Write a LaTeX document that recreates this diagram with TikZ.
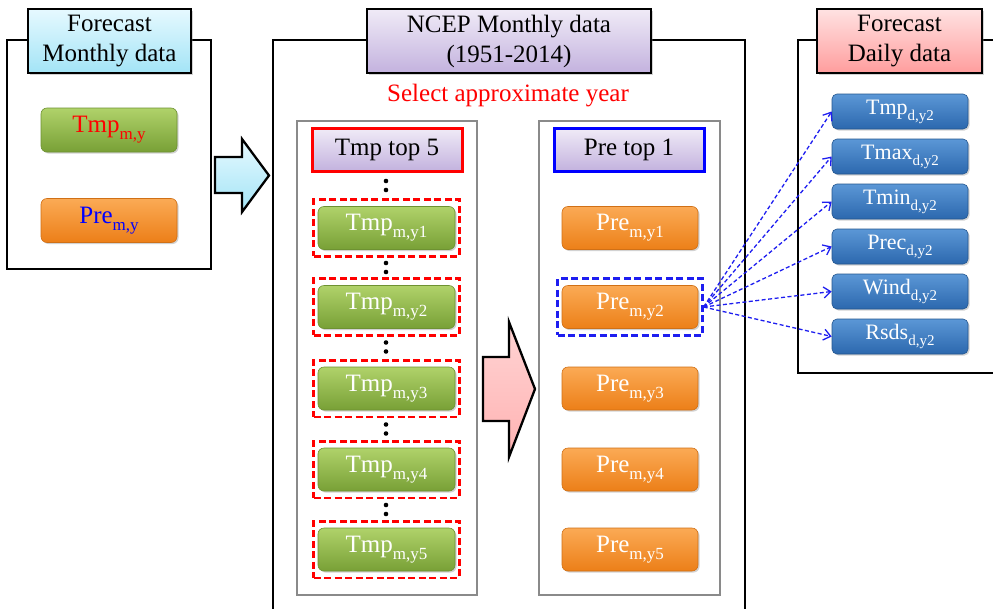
\documentclass[tikz,border=0pt]{standalone}
\usepackage{fontspec}
\setmainfont{Liberation Serif}
\usetikzlibrary{arrows.meta,shadows,fit}
\definecolor{grnT}{HTML}{B0D26A}
\definecolor{grnB}{HTML}{78A036}
\definecolor{grnD}{HTML}{6E9232}
\definecolor{orgT}{HTML}{FBAA55}
\definecolor{orgB}{HTML}{EC7F18}
\definecolor{orgD}{HTML}{D07016}
\definecolor{bluT}{HTML}{5B97D6}
\definecolor{bluB}{HTML}{2C68AE}
\definecolor{bluD}{HTML}{24568F}
\definecolor{cyT}{HTML}{E6F9FF}
\definecolor{cyB}{HTML}{A3E4F6}
\definecolor{puT}{HTML}{F0EBF7}
\definecolor{puB}{HTML}{C3B2DE}
\definecolor{pkT}{HTML}{FFE2E2}
\definecolor{pkB}{HTML}{FF9D9D}
\definecolor{arrB}{HTML}{1E1EF0}
\definecolor{grayf}{HTML}{8A8A8A}
\newcommand\sbs[2][17]{\raisebox{-0.27em}{\fontsize{#1}{#1}\selectfont #2}}
\tikzset{
  frame/.style={draw=black, line width=2.3pt, fill=white},
  innerframe/.style={draw=grayf, line width=1.7pt},
  shad/.style={drop shadow={shadow xshift=1.5pt, shadow yshift=-1.5pt, opacity=.35}},
  titlebox/.style={shad, draw=black, line width=2.3pt, inner sep=0pt, align=center,
    minimum height=64pt, font=\fontsize{25}{30}\selectfont},
  headbox/.style={shad, line width=3pt, inner sep=0pt, top color=puT, bottom color=puB,
    minimum width=150pt, minimum height=43pt, font=\fontsize{25}{29}\selectfont},
  grnbox/.style={shad, rounded corners=6pt, draw=grnD, line width=0.6pt, top color=grnT, bottom color=grnB,
    minimum width=137pt, minimum height=43pt, inner sep=0pt, text=white, font=\fontsize{25}{29}\selectfont},
  orgbox/.style={shad, rounded corners=6pt, draw=orgD, line width=0.6pt, top color=orgT, bottom color=orgB,
    minimum width=136pt, minimum height=43pt, inner sep=0pt, text=white, font=\fontsize{25}{29}\selectfont},
  blubox/.style={shad, rounded corners=5pt, draw=bluD, line width=0.6pt, top color=bluT, bottom color=bluB,
    minimum width=136pt, minimum height=35pt, inner sep=0pt, text=white, font=\fontsize{22}{25}\selectfont},
  reddash/.style={draw=red, dash pattern=on 7pt off 3.5pt, line width=2.6pt, inner xsep=4pt, inner ysep=6.5pt},
  bluedash/.style={draw=arrB, dash pattern=on 7pt off 3.5pt, line width=2.6pt, inner xsep=4pt, inner ysep=6.5pt},
  link/.style={draw=arrB, dash pattern=on 4pt off 2.5pt, line width=1.3pt, -{Straight Barb[length=7pt,width=11pt]}},
  blockarrow/.style={draw=black, line width=2.3pt, line join=miter},
  dotc/.style={fill=black}
}
\begin{document}
\begin{tikzpicture}[x=1pt,y=-1pt]
\useasboundingbox (0,0) rectangle (993,608);
\clip (0,0) rectangle (993,608);
% frames
\draw[frame] (7,40) rectangle (211,269);
\draw[frame] (273,40) rectangle (745,625);
\draw[frame] (798,40) rectangle (1005,373);
\draw[innerframe] (297,121) rectangle (477,595);
\draw[innerframe] (539,121) rectangle (720,595);
% titles
\node[titlebox, minimum width=163pt, top color=cyT, bottom color=cyB] (t1) at (109.5,41) {Forecast\\Monthly data};
\node[titlebox, minimum width=284pt, top color=puT, bottom color=puB] (t2) at (509,41) {NCEP Monthly data\\(1951-2014)};
\node[titlebox, minimum width=165pt, top color=pkT, bottom color=pkB] (t3) at (899.5,41) {Forecast\\Daily data};
\node[text=red, font=\fontsize{25}{29}\selectfont] (sel) at (508,96) {Select approximate year};
% left column
\node[grnbox, minimum width=136pt, minimum height=44pt, text=red] (lt) at (109,130) {Tmp\sbs{m,y}};
\node[orgbox, minimum height=44pt, text=blue] (lp) at (109,220.5) {Pre\sbs{m,y}};
% block arrows
\draw[blockarrow, top color=cyT, bottom color=cyB] (215,157) -- (242,157) -- (242,139) -- (269,175.5) -- (242,212) -- (242,193) -- (215,193) -- cycle;
\draw[blockarrow, top color=pkT!80!pkB, bottom color=pkT!30!pkB] (483,357) -- (509,357) -- (509,322) -- (535,389) -- (509,457) -- (509,421) -- (483,421) -- cycle;
% headers
\node[headbox, draw=red] (ht) at (387,149.5) {Tmp top 5};
\node[headbox, draw=blue] (hp) at (629,149.5) {Pre top 1};
% Tmp column
\node[grnbox] (tm1) at (386.5,228) {Tmp\sbs{m,y1}};
\node[grnbox] (tm2) at (386.5,307) {Tmp\sbs{m,y2}};
\node[grnbox] (tm3) at (386.5,388.5) {Tmp\sbs{m,y3}};
\node[grnbox] (tm4) at (386.5,469.5) {Tmp\sbs{m,y4}};
\node[grnbox] (tm5) at (386.5,549.5) {Tmp\sbs{m,y5}};
\foreach \i in {1,...,5} {\node[reddash, fit=(tm\i)] (dt\i) {};}
% dots
\foreach \yy in {185.5,267.5,347,429,509.5} {
  \fill[dotc] (386,\yy-4.5) circle (2.3pt);
  \fill[dotc] (386,\yy+4.5) circle (2.3pt);
}
% Pre column
\node[orgbox] (pm1) at (630,228) {Pre\sbs{m,y1}};
\node[orgbox] (pm2) at (630,307) {Pre\sbs{m,y2}};
\node[orgbox] (pm3) at (630,388.5) {Pre\sbs{m,y3}};
\node[orgbox] (pm4) at (630,469.5) {Pre\sbs{m,y4}};
\node[orgbox] (pm5) at (630,549.5) {Pre\sbs{m,y5}};
\node[bluedash, fit=(pm2)] (dp2) {};
% daily column
\node[blubox] (d1) at (900,111.5) {Tmp\sbs[15]{d,y2}};
\node[blubox] (d2) at (900,156.5) {Tmax\sbs[15]{d,y2}};
\node[blubox] (d3) at (900,201.5) {Tmin\sbs[15]{d,y2}};
\node[blubox] (d4) at (900,246.5) {Prec\sbs[15]{d,y2}};
\node[blubox] (d5) at (900,291.5) {Wind\sbs[15]{d,y2}};
\node[blubox] (d6) at (900,336.5) {Rsds\sbs[15]{d,y2}};
\coordinate (src) at (dp2.east);
\foreach \i in {1,...,6} {\draw[link] (src) -- (d\i.west);}
\end{tikzpicture}
\end{document}
